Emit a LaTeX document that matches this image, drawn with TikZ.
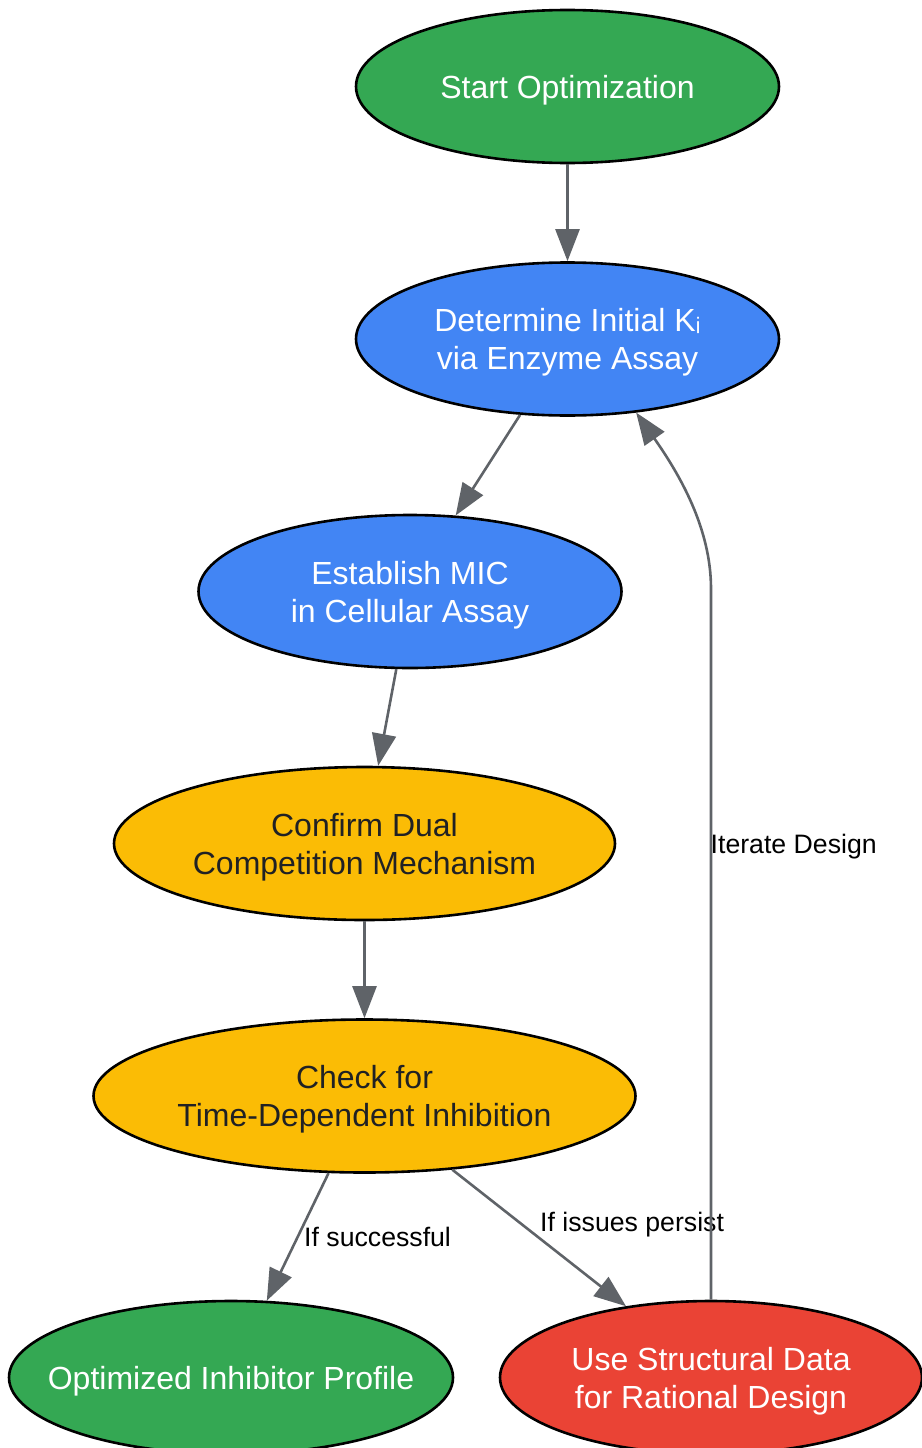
\documentclass[tikz,border=0pt]{standalone}
\usepackage{fontspec}
\setmainfont{Liberation Sans}
\usetikzlibrary{shapes.geometric,arrows.meta}
\definecolor{cgreen}{HTML}{34A853}
\definecolor{cblue}{HTML}{4285F4}
\definecolor{cyellow}{HTML}{FBBC05}
\definecolor{cred}{HTML}{EA4335}
\definecolor{cedge}{HTML}{5F6368}
\definecolor{cdark}{HTML}{202124}
\tikzset{
  blob/.style={ellipse,draw=black,line width=2.6pt,inner ysep=0pt,inner xsep=-60pt,align=center,
    minimum height=153pt,text depth=7pt,font=\fontsize{32}{38}\selectfont},
  oneline/.style={text height=31pt},
  twoline/.style={text height=67pt},
  twolinelow/.style={text height=69pt},
  lighttext/.style={text=white},
  darktext/.style={text=cdark},
  link/.style={draw=cedge,line width=2.6pt,-{Triangle[length=32pt,width=24pt,fill=cedge]}},
  tag/.style={inner sep=0pt,text=black,anchor=west,text height=19.5pt,text depth=0pt,font=\fontsize{26.67}{32}\selectfont}
}
\begin{document}
\begin{tikzpicture}[x=1pt,y=-1pt]
\useasboundingbox (0,0) rectangle (921,1448);
\node[blob,oneline,lighttext,fill=cgreen,minimum width=423pt] (start) at (567.5,86.5) {Start Optimization};
\node[blob,twoline,lighttext,fill=cblue,minimum width=423pt] (ki) at (567.5,339) {Determine Initial Kᵢ\\via Enzyme Assay};
\node[blob,twolinelow,lighttext,fill=cblue,minimum width=423pt] (mic) at (410,591.5) {Establish MIC\\in Cellular Assay};
\node[blob,twolinelow,darktext,fill=cyellow,minimum width=501pt] (dual) at (364.5,843.5) {Confirm Dual\\Competition Mechanism};
\node[blob,twoline,darktext,fill=cyellow,minimum width=542pt] (tdi) at (364.5,1096) {Check for\\Time-Dependent Inhibition};
\node[blob,oneline,lighttext,fill=cgreen,minimum width=444pt] (opt) at (231,1377.5) {Optimized Inhibitor Profile};
\node[blob,twolinelow,lighttext,fill=cred,minimum width=422pt] (sbd) at (711,1377.5) {Use Structural Data\\for Rational Design};
\node[tag] (l1) at (304,1237) {If successful};
\node[tag] (l2) at (540,1222) {If issues persist};
\node[tag] (l3) at (710.5,844) {Iterate Design};
\draw[link] (start.south) -- (ki.north);
\draw[link] (ki.238.2) -- (mic.59.3);
\draw[link] (mic.260.4) -- (dual.80.8);
\draw[link] (dual.south) -- (tdi.north);
\draw[link] (tdi.245) -- (opt.65);
\draw[link] (tdi.320.7) -- (sbd.140.1);
\draw[link] (sbd.north) -- ++(0,-711) .. controls +(0,-60) and (680,475) .. (ki.313.5);
\end{tikzpicture}
\end{document}
